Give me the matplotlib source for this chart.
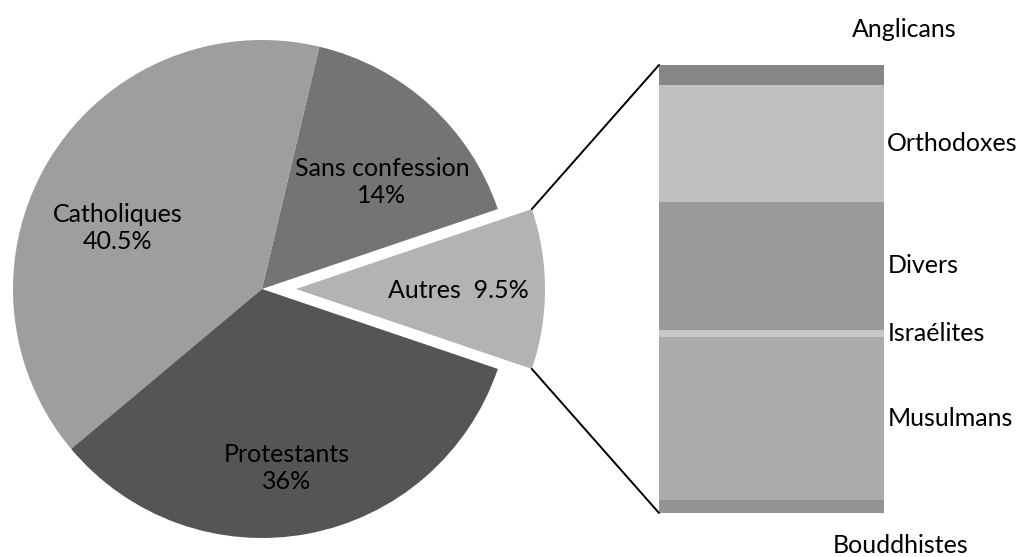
import matplotlib
matplotlib.use("Agg")
import matplotlib.pyplot as plt
from matplotlib.patches import ConnectionPatch
import numpy as np

plt.rcParams['font.family'] = ['Lato', 'DejaVu Sans']

# Main pie (drawn shares) and its printed labels
pie_names = ['Autres', 'Sans confession', 'Catholiques', 'Protestants']
pie_values = [10.4, 16.1, 39.8, 33.7]
pie_texts = ['Autres  9.5%', 'Sans confession\n14%', 'Catholiques\n40.5%', 'Protestants\n36%']
pie_colors = ['#b3b3b3', '#747474', '#9e9e9e', '#555555']

# Breakdown of "Autres", bottom to top
bar_names = ['Bouddhistes', 'Musulmans', 'Israélites', 'Divers', 'Orthodoxes', 'Anglicans']
bar_values = [0.30, 3.79, 0.16, 2.97, 2.72, 0.46]
bar_colors = ['#939393', '#ababab', '#c8c8c8', '#9a9a9a', '#c0c0c0', '#868686']

W, H = 1030, 557
fig = plt.figure(figsize=(W / 100, H / 100), dpi=100)

# pie axes in pixel units (y measured upwards)
ax1 = fig.add_axes([0, 0, 1, 1])
cx, cy, rad = 262, H - 289, 249
start = -pie_values[0] * 3.6 / 2
wedges, _ = ax1.pie(pie_values, colors=pie_colors, startangle=start,
                    explode=[34, 0, 0, 0], center=(cx, cy), radius=rad,
                    wedgeprops=dict(linewidth=0))
ax1.set_xlim(0, W)
ax1.set_ylim(0, H)
ax1.set_aspect('auto')
ax1.axis('off')

# slice labels
label_pos = [(458, 290), (382, 182), (118, 228), (287, 468)]
fs = 18
for txt, (x, y) in zip(pie_texts, label_pos):
    ax1.text(x, H - y, txt, ha='center', va='center', fontsize=fs,
             linespacing=1.25)

# bar of the "Autres" slice
ax2 = fig.add_axes([659 / W, 1 - 513 / H, 225 / W, 448 / H])
total = sum(bar_values)
bottom = 0
mids = []
for v, c in zip(bar_values, bar_colors):
    ax2.bar(0, v, width=1, bottom=bottom, color=c, linewidth=0)
    mids.append(bottom + v / 2)
    bottom += v
ax2.set_xlim(-0.5, 0.5)
ax2.set_ylim(0, total)
ax2.axis('off')

for name, m in zip(bar_names, mids):
    if name == 'Bouddhistes':
        ax2.text(1.075, -0.073, name, transform=ax2.transAxes, ha='center',
                 va='center', fontsize=fs, clip_on=False)
    elif name == 'Anglicans':
        ax2.text(1.09, 1.08, name, transform=ax2.transAxes, ha='center',
                 va='center', fontsize=fs, clip_on=False)
    else:
        ax2.text(0.515, m, name, ha='left', va='center', fontsize=fs,
                 clip_on=False)

# connector lines from the exploded slice to the bar
w = wedges[0]
wc = np.array(w.center)
for ang, yb in [(w.theta2, 1), (w.theta1, 0)]:
    p = wc + w.r * np.array([np.cos(np.radians(ang)), np.sin(np.radians(ang))])
    con = ConnectionPatch(xyA=tuple(p), coordsA=ax1.transData,
                          xyB=(0, yb), coordsB=ax2.transAxes,
                          color='black', linewidth=1.4)
    fig.add_artist(con)

fig.savefig('out.png', dpi=100)
